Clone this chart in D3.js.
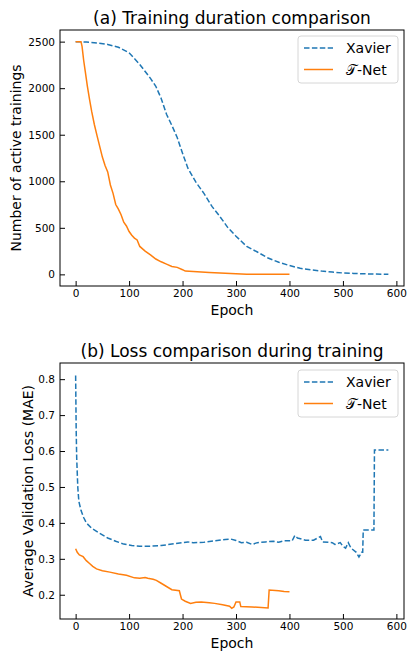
<!DOCTYPE html>
<html>
<head>
<meta charset="utf-8">
<script src="https://cdn.jsdelivr.net/npm/d3@7"></script>
<style>
  body { margin: 0; background: #fff; }
  text { font-family: "DejaVu Sans", sans-serif; }
</style>
</head>
<body>
<div id="chart"></div>
<script>
// epochs / values
var xavierDurEpoch = [0, 20, 40, 60, 80, 100, 120, 140, 150, 160, 170, 180, 190, 200, 210, 225, 240, 255, 270, 285, 300, 320, 340, 360, 380, 400, 420, 440, 460, 480, 500, 520, 540, 560, 585];
var xavierDur = [2500, 2495, 2485, 2470, 2440, 2380, 2255, 2105, 2020, 1890, 1720, 1600, 1470, 1300, 1140, 990, 870, 730, 620, 500, 410, 300, 240, 175, 130, 95, 65, 48, 35, 25, 15, 10, 6, 3, 0];

var tnetDurEpoch = [0, 10, 12, 15, 18, 22, 26, 30, 35, 40, 45, 50, 55, 60, 65, 70, 75, 80, 85, 90, 95, 100, 105, 110, 115, 120, 130, 140, 150, 160, 170, 180, 190, 200, 205, 220, 250, 280, 300, 320, 350, 400];
var tnetDur = [2500, 2500, 2450, 2300, 2180, 2020, 1880, 1750, 1610, 1490, 1375, 1260, 1170, 1100, 960, 870, 750, 700, 640, 560, 520, 460, 420, 390, 370, 300, 250, 210, 165, 135, 110, 85, 75, 50, 35, 30, 20, 12, 6, 2, 1, 0];

var xavierLossEpoch = [0, 1, 2, 4, 6, 10, 15, 20, 30, 45, 60, 75, 90, 105, 120, 140, 160, 180, 200, 210, 220, 240, 260, 280, 290, 300, 310, 320, 330, 340, 355, 370, 380, 390, 405, 410, 415, 430, 445, 458, 462, 480, 485, 495, 500, 505, 510, 515, 525, 530, 535, 537, 538, 558, 559, 585];
var xavierLoss = [0.81, 0.66, 0.58, 0.50, 0.46, 0.435, 0.415, 0.40, 0.385, 0.371, 0.358, 0.349, 0.341, 0.337, 0.335, 0.335, 0.337, 0.341, 0.345, 0.347, 0.345, 0.346, 0.350, 0.354, 0.355, 0.351, 0.345, 0.346, 0.340, 0.345, 0.347, 0.349, 0.346, 0.350, 0.350, 0.365, 0.358, 0.352, 0.352, 0.362, 0.347, 0.345, 0.340, 0.345, 0.335, 0.330, 0.345, 0.330, 0.318, 0.305, 0.318, 0.318, 0.380, 0.380, 0.603, 0.603];

var tnetLossEpoch = [0, 3, 7, 14, 20, 26, 32, 39, 50, 64, 80, 95, 110, 120, 130, 135, 145, 151, 160, 170, 180, 194, 198, 205, 215, 225, 235, 250, 260, 275, 288, 292, 296, 300, 307, 309, 330, 360, 362, 380, 390, 400];
var tnetLoss = [0.328, 0.318, 0.311, 0.306, 0.295, 0.287, 0.279, 0.272, 0.267, 0.263, 0.258, 0.254, 0.247, 0.246, 0.248, 0.246, 0.243, 0.240, 0.232, 0.223, 0.214, 0.211, 0.188, 0.182, 0.176, 0.179, 0.180, 0.178, 0.176, 0.172, 0.168, 0.162, 0.166, 0.180, 0.180, 0.167, 0.166, 0.163, 0.213, 0.211, 0.209, 0.208];

var epochTicks = [0, 100, 200, 300, 400, 500, 600];
var durTicks = [0, 500, 1000, 1500, 2000, 2500];
var lossTicks = [0.2, 0.3, 0.4, 0.5, 0.6, 0.7, 0.8];
var seriesNames = ['Xavier', '\u{1D4AF}-Net'];

var width = 408;
var height = 652;
var blue = '#1f77b4', orange = '#ff7f0e';

var svg = d3.select('#chart')
  .append('svg')
  .attr('width', width)
  .attr('height', height);

function panel(cfg) {
  var g = svg.append('g');
  var x = d3.scaleLinear().domain([-29.25, 614.25]).range([cfg.left, cfg.right]);
  var y = d3.scaleLinear().domain(cfg.yDomain).range([cfg.bottom, cfg.top]);

  // axes, ticks point inwards
  var xa = g.append('g')
    .attr('transform', `translate(0, ${cfg.bottom})`)
    .call(d3.axisBottom(x).tickValues(epochTicks).tickSizeInner(-5).tickSizeOuter(0).tickPadding(4));
  var ya = g.append('g')
    .attr('transform', `translate(${cfg.left}, 0)`)
    .call(d3.axisLeft(y).tickValues(cfg.yTicks).tickFormat(cfg.fmt).tickSizeInner(-5).tickSizeOuter(0).tickPadding(5));
  [xa, ya].forEach(function (a) {
    a.select('.domain').remove();
    a.selectAll('text').attr('font-size', '10.5px').attr('fill', '#000')
      .style('font-family', '"DejaVu Sans", sans-serif');
    a.selectAll('line').attr('stroke', '#000');
  });

  var line = d3.line().x(d => x(d[0])).y(d => y(d[1]));

  g.append('path')
    .datum(d3.zip(cfg.xEpoch, cfg.xVals))
    .attr('d', line)
    .attr('fill', 'none')
    .attr('stroke', blue)
    .attr('stroke-width', 1.5)
    .attr('stroke-dasharray', '5.5,2.4');

  g.append('path')
    .datum(d3.zip(cfg.tEpoch, cfg.tVals))
    .attr('d', line)
    .attr('fill', 'none')
    .attr('stroke', orange)
    .attr('stroke-width', 1.5);

  g.append('rect')
    .attr('x', cfg.left).attr('y', cfg.top)
    .attr('width', cfg.right - cfg.left).attr('height', cfg.bottom - cfg.top)
    .attr('fill', 'none').attr('stroke', '#000').attr('stroke-width', 1);

  g.append('text')
    .attr('x', (cfg.left + cfg.right) / 2)
    .attr('y', cfg.top - 6)
    .attr('text-anchor', 'middle')
    .attr('font-size', '17px')
    .text(cfg.title);

  g.append('text')
    .attr('x', (cfg.left + cfg.right) / 2)
    .attr('y', cfg.bottom + 29)
    .attr('text-anchor', 'middle')
    .attr('font-size', '14px')
    .text('Epoch');

  g.append('text')
    .attr('transform', `translate(${cfg.ylabelX}, ${(cfg.top + cfg.bottom) / 2}) rotate(-90)`)
    .attr('text-anchor', 'middle')
    .attr('font-size', '14px')
    .text(cfg.ylabel);

  // legend
  var lg = g.append('g').attr('transform', `translate(298, ${cfg.legendTop})`);
  lg.append('rect')
    .attr('width', 100).attr('height', 47).attr('rx', 3)
    .attr('fill', '#fff').attr('fill-opacity', 0.8)
    .attr('stroke', '#d6d6d6');
  seriesNames.forEach(function (name, i) {
    var yy = 12 + i * 21.5;
    lg.append('line')
      .attr('x1', 6).attr('x2', 35).attr('y1', yy).attr('y2', yy)
      .attr('stroke', i ? orange : blue).attr('stroke-width', 1.5)
      .attr('stroke-dasharray', i ? null : '5.5,2.4');
    lg.append('text')
      .attr('x', 48).attr('y', yy + 5)
      .attr('font-size', '14px')
      .text(name);
  });
}

panel({
  left: 60, right: 404, top: 30, bottom: 286,
  yDomain: [-125, 2625], yTicks: durTicks, fmt: d3.format('d'),
  xEpoch: xavierDurEpoch, xVals: xavierDur, tEpoch: tnetDurEpoch, tVals: tnetDur,
  title: '(a) Training duration comparison',
  ylabel: 'Number of active trainings', ylabelX: 21,
  legendTop: 36
});

panel({
  left: 60, right: 404, top: 363, bottom: 619,
  yDomain: [0.1325, 0.845], yTicks: lossTicks, fmt: d3.format('.1f'),
  xEpoch: xavierLossEpoch, xVals: xavierLoss, tEpoch: tnetLossEpoch, tVals: tnetLoss,
  title: '(b) Loss comparison during training',
  ylabel: 'Average Validation Loss (MAE)', ylabelX: 33,
  legendTop: 370
});
</script>
</body>
</html>
